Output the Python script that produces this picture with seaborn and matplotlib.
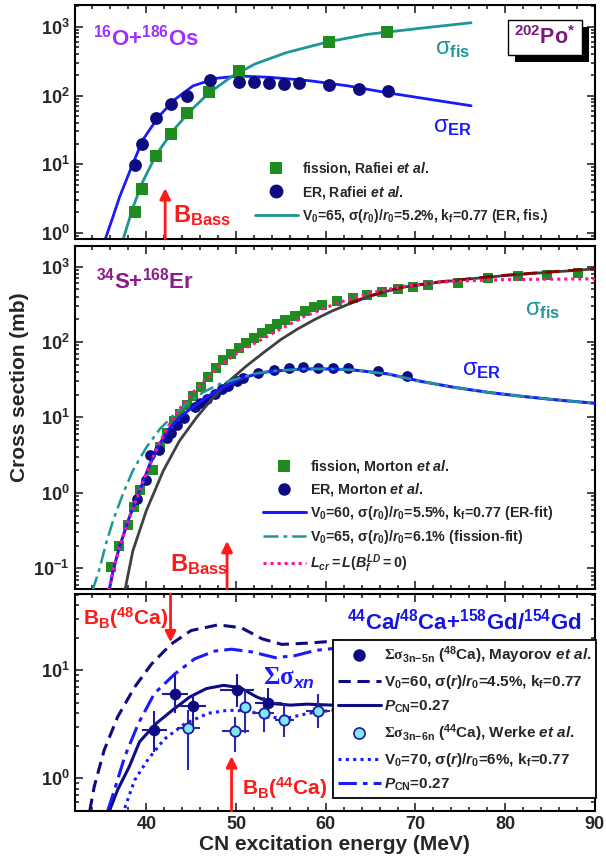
import numpy as np
import seaborn as sns
import matplotlib.pyplot as plt
import matplotlib.patheffects as pe
from matplotlib.lines import Line2D
from matplotlib.ticker import MultipleLocator, LogLocator, FuncFormatter, NullFormatter

# ---------------- data ----------------
# top panel: 16O + 186Os
os_fis_E = [38.7, 39.5, 41.1, 42.8, 44.5, 47.0, 50.3, 60.4, 66.8]
os_fis_sig = [2.0, 4.4, 13, 28, 55, 113, 230, 605, 837]
os_er_E = [38.7, 39.5, 41.1, 42.8, 44.5, 47.1, 50.3, 52.0, 53.7, 55.4, 57.0, 60.4, 63.7, 66.9]
os_er_sig = [9.8, 19.8, 46.5, 75, 100, 168, 155, 157, 154, 147, 154, 144, 123, 116]
os_erfit_E = [35.4, 36.2, 37.0, 38.3, 39.6, 41.35, 43.1, 45.2, 47.8, 50.4, 53.8, 58.2, 62.5, 66.8, 71.1, 76.2]
os_erfit_sig = [0.8, 1.6, 3.3, 8.8, 22.6, 49, 86, 138, 178, 192, 184, 164, 138, 110, 90, 71]
os_fisfit_E = [37.4, 38.55, 39.6, 41.1, 42.9, 44.8, 46.95, 49.5, 52.1, 55.6, 60.3, 64.6, 71.1, 76.2]
os_fisfit_sig = [0.8, 2.44, 5.6, 13.7, 30, 58, 108, 188, 287, 420, 605, 774, 967, 1143]
os_bass = 42.1

# middle panel: 34S + 168Er
er_fis_E = [36.1, 36.9, 38.0, 38.6, 39.25, 40.7, 41.5, 42.3, 43.1, 43.7, 44.5, 45.2, 46.05, 46.9,
            47.8, 48.6, 49.4, 50.3, 51.1, 52.0, 52.9, 53.8, 54.6, 55.5, 56.6, 57.7, 58.7, 59.6,
            61.3, 63.0, 64.6, 66.3, 68.0, 69.7, 71.4, 74.7, 78.1, 81.4, 84.7, 88.1]
er_fis_sig = [0.105, 0.195, 0.37, 0.64, 1.1, 2.0, 4.0, 6.3, 9.1, 11.1, 14.8, 19.4, 25.7, 34,
              45, 57, 69, 83, 98, 113, 131, 151, 174, 196, 224, 255, 289, 313,
              347, 385, 426, 462, 500, 532, 577, 614, 708, 752, 783, 816]
er_er_E = [38.95, 40.0, 40.45, 41.4, 42.3, 42.7, 43.4, 44.2, 45.4, 46.0, 46.8, 47.65, 48.4,
           49.1, 50.1, 50.8, 52.5, 54.2, 55.9, 57.5, 59.15, 60.8, 62.5, 65.8, 69.1]
er_er_sig = [0.83, 1.48, 3.2, 3.7, 5.3, 6.2, 7.9, 9.8, 13.6, 15.4, 17.6, 20.4, 23.9,
             26.4, 30.1, 33.4, 38.5, 43, 45.3, 46.2, 45.3, 45.3, 44.9, 40.8, 35.8]
er_erfit_E = [35.85, 36.3, 37.0, 38.1, 39.25, 40.4, 41.5, 42.6, 43.7, 44.85, 46.7, 48.6, 50.45,
              52.3, 53.8, 57.5, 60.5, 63.1, 66.9, 70.6, 74.3, 78.1, 81.8, 85.5, 90]
er_erfit_sig = [0.05, 0.093, 0.19, 0.47, 1.07, 2.4, 4.5, 7.2, 10.0, 12.8, 18.5, 25.1, 32.4,
                37.8, 40.8, 44, 44, 42.6, 37.8, 30.1, 25.1, 21.5, 19.1, 17.2, 15.4]
er_fisfit_E = [34.0, 34.8, 35.5, 36.3, 37.4, 38.5, 40.0, 41.5, 43.0, 44.5, 46.3, 48.2, 50.45,
               52.3, 53.8, 57.5, 60.5, 63.1, 66.9, 70.6, 74.3, 78.1, 81.8, 85.5, 90]
er_fisfit_sig = [0.05, 0.10, 0.21, 0.43, 0.97, 1.97, 4.0, 7.0, 10.6, 15.1, 21.5, 27.8, 33.5,
                 38.5, 41, 44, 44, 42.6, 37.8, 30.1, 25.1, 21.5, 19.1, 17.2, 15.4]
er_lcr_E = [35.8, 36.3, 37.0, 38.1, 39.25, 40.4, 41.5, 42.6, 43.7, 45.2, 46.7, 48.2, 49.7,
            51.2, 53.1, 54.9, 57.5, 61.3, 65.0, 68.7, 72.5, 76.2, 79.9, 83.7, 90]
er_lcr_sig = [0.05, 0.093, 0.19, 0.47, 1.07, 2.41, 4.68, 8.2, 13, 21.5, 32.4, 48.6, 66,
              85, 112, 148, 215, 330, 450, 550, 620, 652, 673, 680, 690]
er_gray_E = [37.6, 38.5, 40.0, 41.9, 43.7, 45.6, 47.5, 49.3, 51.2, 53.1, 55.0, 56.9, 58.8,
             60.7, 62.6, 64.5, 66.6, 68.7, 72.5, 76.2, 79.9, 83.7, 87.4, 90]
er_gray_sig = [0.05, 0.17, 0.58, 1.97, 4.9, 10, 18.6, 31, 48.6, 73, 108, 150, 200,
               258, 320, 390, 465, 535, 620, 690, 760, 824, 885, 935]
er_red_E = [62.6, 64.5, 66.6, 68.7, 72.5, 76.2, 79.9, 83.7, 87.4, 90]
er_red_sig = [325, 395, 470, 540, 625, 695, 768, 832, 892, 945]
er_bass = 49.0

# bottom panel: 44Ca/48Ca + 158Gd/154Gd
may_E = [40.9, 43.2, 45.2, 50.1, 53.6]
may_sig = [2.8, 6.1, 4.66, 6.6, 5.0]
may_lo = [1.75, 4.0, 3.0, 4.6, 3.7]
may_hi = [4.2, 9.3, 6.1, 9.3, 6.8]
may_dE = [1.4, 1.5, 1.5, 1.9, 1.5]
wer_E = [44.7, 49.9, 51.0, 53.15, 55.4, 59.15]
wer_sig = [2.9, 2.74, 4.58, 4.04, 3.5, 4.2]
wer_lo = [1.2, 1.76, 2.6, 2.7, 2.4, 2.9]
wer_hi = [4.3, 3.7, 6.5, 5.67, 4.9, 6.1]
wer_dE = [1.3, 1.5, 0.6, 1.1, 1.1, 1.3]
ca48_v60_E = [33.7, 34.2, 35.3, 36.8, 38.7, 40.6, 42.8, 45.0, 48.0, 50.6, 52.9, 55.1, 58.1, 60.7, 64.0]
ca48_v60_sig = [0.5, 0.84, 1.82, 3.7, 7.0, 11.5, 17.6, 23.4, 26.4, 24.8, 19.6, 17.4, 17.9, 18.6, 18.6]
ca48_pcn_E = [35.9, 36.8, 38.1, 39.25, 41.1, 43.0, 44.85, 46.7, 48.6, 50.45, 52.3, 54.2, 56.05, 57.9, 60.7, 64.0]
ca48_pcn_sig = [0.5, 0.78, 1.28, 2.18, 3.22, 4.33, 5.67, 6.78, 7.26, 6.92, 5.67, 4.92, 4.76, 4.86, 4.76, 4.7]
ca44_v70_E = [37.6, 38.7, 40.2, 42.0, 44.3, 46.9, 49.1, 51.4, 53.6, 55.5, 58.1, 60.7, 64.0]
ca44_v70_sig = [0.53, 0.96, 1.5, 2.3, 3.2, 4.0, 4.27, 4.2, 3.7, 3.58, 4.0, 4.27, 4.3]
ca44_pcn_E = [35.7, 36.45, 37.6, 39.1, 40.9, 43.2, 45.4, 47.65, 49.5, 51.8, 54.4, 56.6, 58.85, 60.7, 64.0]
ca44_pcn_sig = [0.5, 0.78, 1.59, 3.2, 6.1, 9.3, 12.8, 15.1, 15.7, 14.8, 13.1, 13.7, 15.3, 15.9, 16.0]
bb48 = 42.7
bb44 = 49.5

# ---------------- style ----------------
sns.set_theme(style='ticks')
plt.rcParams['font.family'] = ['Liberation Sans', 'DejaVu Sans']
plt.rcParams['font.weight'] = 'bold'
plt.rcParams['mathtext.fontset'] = 'custom'
plt.rcParams['mathtext.rm'] = 'Liberation Sans:bold'
plt.rcParams['mathtext.bf'] = 'Liberation Sans:bold'
plt.rcParams['mathtext.it'] = 'Liberation Sans:italic:bold'
plt.rcParams['mathtext.sf'] = 'Liberation Serif'
plt.rcParams['mathtext.default'] = 'rm'
plt.rcParams['axes.edgecolor'] = 'black'
plt.rcParams['axes.linewidth'] = 1.5

GREEN = '#1e8c1e'
NAVY = '#0c0c80'
BLUE = '#1a1aff'
TEAL = '#1e9696'
PINK = '#ff1493'
RED = '#ff1a1a'
DASH = (0, (4, 2.2))
DOT = (0, (1, 1.4))
DASHDOT = (0, (6, 2, 1.5, 2))

fig = plt.figure(figsize=(6.06, 8.61), dpi=100)
ax1 = fig.add_axes([0.123, 0.7224, 0.8587, 0.2718])
ax2 = fig.add_axes([0.123, 0.3159, 0.8587, 0.3984])
ax3 = fig.add_axes([0.123, 0.0584, 0.8587, 0.2517])


def powfmt(v, pos):
    return r'$10^{%d}$' % int(round(np.log10(v)))


for ax in (ax1, ax2, ax3):
    ax.set_yscale('log')
    ax.set_xlim(32, 90)
    ax.xaxis.set_major_locator(MultipleLocator(10))
    ax.xaxis.set_minor_locator(MultipleLocator(2))
    ax.yaxis.set_major_locator(LogLocator(base=10))
    ax.yaxis.set_minor_locator(LogLocator(base=10, subs=np.arange(2, 10)))
    ax.yaxis.set_major_formatter(FuncFormatter(powfmt))
    ax.yaxis.set_minor_formatter(NullFormatter())
    ax.tick_params(which='both', direction='in', top=True, right=True, width=1.2, labelsize=13)
    ax.tick_params(which='major', length=6)
    ax.tick_params(which='minor', length=3)
    for sp in ax.spines.values():
        sp.set_visible(True)
        sp.set_linewidth(1.5)
        sp.set_color('black')

ax1.set_ylim(0.82, 2070)
ax2.set_ylim(0.053, 1880)
ax3.set_ylim(0.5, 51)
ax1.tick_params(labelbottom=False)
ax2.tick_params(labelbottom=False)

arrow = dict(arrowstyle='-|>', color=RED, lw=2, mutation_scale=16, shrinkA=0, shrinkB=0)


def line(ax, x, y, color, ls='-', lw=2.0, z=2):
    sns.lineplot(x=x, y=y, ax=ax, color=color, lw=lw, linestyle=ls, sort=False,
                 estimator=None, zorder=z, legend=False)


def key_line(color, ls='-', lw=2.0):
    return Line2D([], [], color=color, ls=ls, lw=lw)


def key_mark(marker, color, size, edge=None):
    return Line2D([], [], ls='none', marker=marker, color=color, markersize=size,
                  markeredgecolor=edge or color, markeredgewidth=1.2 if edge else 0)


# ---------------- top panel ----------------
line(ax1, os_erfit_E, os_erfit_sig, BLUE)
line(ax1, os_fisfit_E, os_fisfit_sig, TEAL)
sns.scatterplot(x=os_fis_E, y=os_fis_sig, ax=ax1, marker='s', s=75, color=GREEN, linewidth=0,
                zorder=3, legend=False)
sns.scatterplot(x=os_er_E, y=os_er_sig, ax=ax1, marker='o', s=85, color=NAVY, linewidth=0,
                zorder=3, legend=False)
ax1.legend([key_mark('s', GREEN, 9), key_mark('o', NAVY, 10), key_line(TEAL)],
           [r'fission, Rafiei $\mathit{et\ al.}$', r'ER, Rafiei $\mathit{et\ al.}$',
            r'V$_0$=65, σ($\mathit{r}_0$)/$\mathit{r}_0$=5.2%, k$_f$=0.77 (ER, fis.)'],
           loc='center left', bbox_to_anchor=(0.346, 0.198), frameon=False, fontsize=10,
           handlelength=3.1, handletextpad=0.3, labelspacing=0.45, borderpad=0, borderaxespad=0)
ax1.annotate('', xy=(os_bass, 4.5), xytext=(os_bass, 0.82), arrowprops=arrow)
ax1.text(0.19, 0.10, r'B$_{Bass}$', transform=ax1.transAxes, color=RED, fontsize=17, va='center')
ax1.text(0.035, 0.863, r'$^{16}$O+$^{186}$Os', transform=ax1.transAxes, color='#9b30ff',
         fontsize=16, va='center')
ax1.text(0.693, 0.81, r'σ$_{fis}$', transform=ax1.transAxes, color=TEAL, fontsize=17,
         fontweight='normal', va='center')
ax1.text(0.688, 0.48, r'σ$_{ER}$', transform=ax1.transAxes, color=BLUE, fontsize=17,
         fontweight='normal', va='center')
po = ax1.text(0.904, 0.862, r'$^{202}$Po$^{*}$', transform=ax1.transAxes, ha='center',
              va='center', fontsize=15.5, color='#7a1a7a',
              bbox=dict(boxstyle='square,pad=0.28', fc='white', ec='black', lw=1))
po.get_bbox_patch().set_path_effects([
    pe.SimplePatchShadow(offset=(5, -5), shadow_rgbFace='black', alpha=1), pe.Normal()])

# ---------------- middle panel ----------------
sns.scatterplot(x=er_fis_E, y=er_fis_sig, ax=ax2, marker='s', s=48, color=GREEN, linewidth=0,
                zorder=2, legend=False)
sns.scatterplot(x=er_er_E, y=er_er_sig, ax=ax2, marker='o', s=60, color=NAVY, linewidth=0,
                zorder=2.5, legend=False)
line(ax2, er_gray_E, er_gray_sig, '#404040', z=3)
line(ax2, er_red_E, er_red_sig, '#8b0000', ls=(0, (5, 3)), z=3.1)
line(ax2, er_erfit_E, er_erfit_sig, BLUE, lw=2.2, z=3.2)
line(ax2, er_fisfit_E, er_fisfit_sig, TEAL, ls=DASHDOT, lw=1.8, z=3.3)
line(ax2, er_lcr_E, er_lcr_sig, PINK, ls=(0, (1, 1.3)), lw=2.2, z=3.4)
ax2.legend([key_mark('s', GREEN, 8), key_mark('o', NAVY, 9), key_line(BLUE, lw=2.2),
            key_line(TEAL, DASHDOT, 1.8), key_line(PINK, (0, (1, 1.3)), 2.2)],
           [r'fission, Morton $\mathit{et\ al.}$', r'ER, Morton $\mathit{et\ al.}$',
            r'V$_0$=60, σ($\mathit{r}_0$)/$\mathit{r}_0$=5.5%, k$_f$=0.77 (ER-fit)',
            r'V$_0$=65, σ($\mathit{r}_0$)/$\mathit{r}_0$=6.1% (fission-fit)',
            r'$\mathit{L_{cr}=L(B_f^{LD}=0)}$'],
           loc='center left', bbox_to_anchor=(0.362, 0.211), frameon=False, fontsize=10.3,
           handlelength=3.0, handletextpad=0.3, labelspacing=0.42, borderpad=0, borderaxespad=0)
ax2.annotate('', xy=(er_bass, 0.23), xytext=(er_bass, 0.053), arrowprops=arrow)
ax2.text(0.183, 0.07, r'B$_{Bass}$', transform=ax2.transAxes, color=RED, fontsize=17, va='center')
ax2.text(0.042, 0.90, r'$^{34}$S+$^{168}$Er', transform=ax2.transAxes, color='#8b1a8b',
         fontsize=16, va='center')
ax2.text(0.865, 0.813, r'σ$_{fis}$', transform=ax2.transAxes, color=TEAL, fontsize=17,
         fontweight='normal', va='center')
ax2.text(0.745, 0.638, r'σ$_{ER}$', transform=ax2.transAxes, color=BLUE, fontsize=17,
         fontweight='normal', va='center')

# ---------------- bottom panel ----------------
line(ax3, ca48_v60_E, ca48_v60_sig, NAVY, ls=DASH, lw=2.2)
line(ax3, ca48_pcn_E, ca48_pcn_sig, NAVY, lw=2.2)
line(ax3, ca44_v70_E, ca44_v70_sig, BLUE, ls=DOT, lw=2.2)
line(ax3, ca44_pcn_E, ca44_pcn_sig, BLUE, ls=DASHDOT, lw=2.2)
may_err = [np.subtract(may_sig, may_lo), np.subtract(may_hi, may_sig)]
wer_err = [np.subtract(wer_sig, wer_lo), np.subtract(wer_hi, wer_sig)]
ax3.errorbar(may_E, may_sig, yerr=may_err, xerr=may_dE, fmt='none', ecolor='#1c1c9a',
             elinewidth=1.5, capsize=0, zorder=3)
ax3.errorbar(wer_E, wer_sig, yerr=wer_err, xerr=wer_dE, fmt='none', ecolor='#2a2aaa',
             elinewidth=1.5, capsize=0, zorder=3)
sns.scatterplot(x=may_E, y=may_sig, ax=ax3, marker='o', s=70, color=NAVY, linewidth=0, zorder=4,
                legend=False)
sns.scatterplot(x=wer_E, y=wer_sig, ax=ax3, marker='o', s=55, color='#7fe8f5', edgecolor='#1c1c9a',
                linewidth=1.3, zorder=4, legend=False)
leg = ax3.legend([key_mark('o', NAVY, 9), key_line(NAVY, DASH, 2.2), key_line(NAVY, '-', 2.2),
                  key_mark('o', '#7fe8f5', 8, '#1c1c9a'), key_line(BLUE, DOT, 2.2),
                  key_line(BLUE, DASHDOT, 2.2)],
                 [r'$\mathsf{\Sigma\sigma}_{3n\mathrm{-}5n}$ ($^{48}$Ca), Mayorov $\mathit{et\ al.}$',
                  r'V$_0$=60, σ($\mathit{r}$)/$\mathit{r}_0$=4.5%, k$_f$=0.77',
                  r'$\mathit{P}_{CN}$=0.27',
                  r'$\mathsf{\Sigma\sigma}_{3n\mathrm{-}6n}$ ($^{44}$Ca), Werke $\mathit{et\ al.}$',
                  r'V$_0$=70, σ($\mathit{r}$)/$\mathit{r}_0$=6%, k$_f$=0.77',
                  r'$\mathit{P}_{CN}$=0.27'],
                 loc='upper left', bbox_to_anchor=(0.497, 0.788), frameon=True, fancybox=False,
                 framealpha=1, edgecolor='black', fontsize=11, handlelength=2.8,
                 handletextpad=0.2, labelspacing=0.48, borderpad=0.3, borderaxespad=0)
leg.get_frame().set_linewidth(1.3)
leg.set_zorder(10)
ax3.annotate('', xy=(bb48, 18.2), xytext=(bb48, 51), arrowprops=arrow)
ax3.annotate('', xy=(bb44, 1.6), xytext=(bb44, 0.5), arrowprops=arrow)
ax3.text(0.016, 0.889, r'B$_B$($^{48}$Ca)', transform=ax3.transAxes, color=RED, fontsize=15, va='center')
ax3.text(0.321, 0.105, r'B$_B$($^{44}$Ca)', transform=ax3.transAxes, color=RED, fontsize=15, va='center')
ax3.text(0.974, 0.872, r'$^{44}$Ca/$^{48}$Ca+$^{158}$Gd/$^{154}$Gd', transform=ax3.transAxes,
         color='#1414e6', fontsize=16, ha='right', va='center')
ax3.text(0.362, 0.61, r'$\mathsf{\Sigma\sigma}_{\mathit{xn}}$', transform=ax3.transAxes,
         color=BLUE, fontsize=18, fontweight='normal', va='center')

ax3.set_xlabel('CN excitation energy (MeV)', fontsize=15, fontweight='bold', labelpad=2)
fig.text(0.033, 0.55, 'Cross section (mb)', rotation=90, ha='center', va='center',
         fontsize=15, fontweight='bold')

fig.savefig('out.png', dpi=100)
